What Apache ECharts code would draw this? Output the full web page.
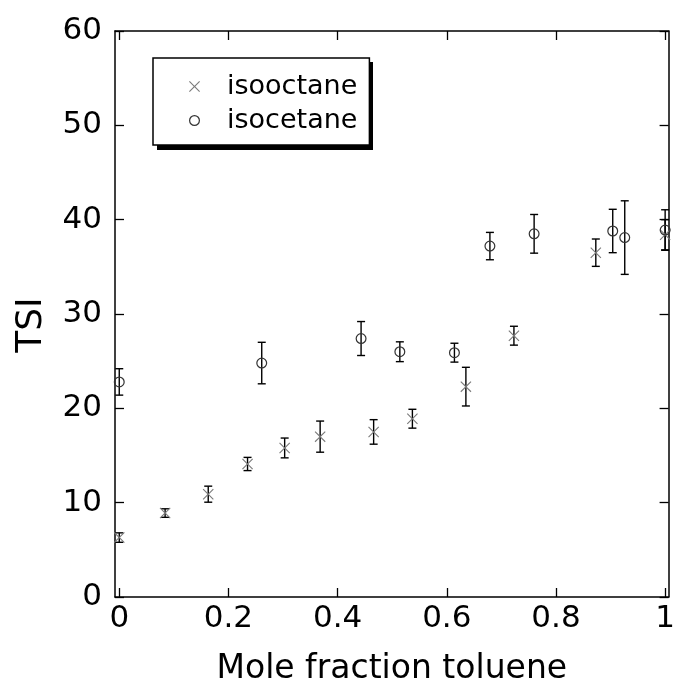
<!DOCTYPE html>
<html>
<head>
<meta charset="utf-8">
<script src="https://cdn.jsdelivr.net/npm/echarts@6/dist/echarts.min.js"></script>
<style>
  html, body { margin: 0; padding: 0; background: #fff; }
  #chart { width: 678px; height: 691px; }
</style>
</head>
<body>
<div id="chart"></div>
<script>
// TSI versus mole fraction of toluene, two surrogate blends with error bars
const xIsooctane = [0, 0.084, 0.163, 0.235, 0.303, 0.368, 0.466, 0.537, 0.635, 0.723, 0.873, 1.0];
const yIsooctane = [6.3, 8.9, 10.9, 14.1, 15.8, 17.0, 17.5, 18.9, 22.3, 27.7, 36.5, 38.4];
const eIsooctane = [0.5, 0.45, 0.85, 0.7, 1.05, 1.65, 1.3, 1.0, 2.05, 1.0, 1.45, 1.6];

const xIsocetane = [0, 0.261, 0.443, 0.514, 0.614, 0.679, 0.760, 0.904, 0.926, 1.0];
const yIsocetane = [22.8, 24.8, 27.4, 26.0, 25.9, 37.2, 38.5, 38.8, 38.1, 38.9];
const eIsocetane = [1.4, 2.2, 1.8, 1.05, 1.0, 1.45, 2.05, 2.3, 3.9, 2.15];

const xTickValues = [0, 0.2, 0.4, 0.6, 0.8, 1];
const xTickLabels = ['0', '0.2', '0.4', '0.6', '0.8', '1'];
const yTickLabels = ['0', '10', '20', '30', '40', '50', '60'];

// axis limits leave a small margin around 0 and 1
const X_MIN = -0.0078;
const X_MAX = 1.0063;

const FONT = 'DejaVu Sans';
const CROSS = 'path://M0,0.7 L0.7,0 L5,4.3 L9.3,0 L10,0.7 L5.7,5 L10,9.3 L9.3,10 L5,5.7 L0.7,10 L0,9.3 L4.3,5 Z';
const RING = 'path://M5,0 A5,5 0 1,1 5,10 A5,5 0 1,1 5,0 Z M5,1.1 A3.9,3.9 0 1,0 5,8.9 A3.9,3.9 0 1,0 5,1.1 Z';

function points(xs, ys) { return xs.map((x, i) => [x, ys[i]]); }
function bars(xs, ys, es) { return xs.map((x, i) => [x, ys[i], es[i]]); }

function renderErrorBar(params, api) {
  const x = api.value(0), y = api.value(1), e = api.value(2);
  const top = api.coord([x, y + e]);
  const bot = api.coord([x, y - e]);
  const hw = 4;
  const st = { stroke: '#000', lineWidth: 1.4 };
  return {
    type: 'group',
    children: [
      { type: 'line', shape: { x1: top[0], y1: top[1], x2: bot[0], y2: bot[1] }, style: st },
      { type: 'line', shape: { x1: top[0] - hw, y1: top[1], x2: top[0] + hw, y2: top[1] }, style: st },
      { type: 'line', shape: { x1: bot[0] - hw, y1: bot[1], x2: bot[0] + hw, y2: bot[1] }, style: st }
    ]
  };
}

const axisLineStyle = { color: '#000', width: 1.5 };
const tickStyle = { color: '#000', width: 1.3 };

// legend box geometry (the solid drop shadow sits behind it)
const LEGEND_LEFT = 153, LEGEND_TOP = 58, LEGEND_W = 216, LEGEND_H = 88, SHADOW = 4;

const chart = echarts.init(document.getElementById('chart'), null, { renderer: 'canvas' });
chart.setOption({
  animation: false,
  backgroundColor: '#fff',
  grid: { left: 115, right: 1, top: 31, bottom: 94, containLabel: false },
  graphic: [
    {
      type: 'rect', z: 4, silent: true,
      shape: { x: LEGEND_LEFT + SHADOW, y: LEGEND_TOP + SHADOW, width: LEGEND_W, height: LEGEND_H },
      style: { fill: '#000' }
    }
  ],
  legend: {
    left: LEGEND_LEFT, top: LEGEND_TOP, z: 5,
    orient: 'vertical',
    padding: [15, 12, 11, 36],
    itemGap: 7,
    itemWidth: 11, itemHeight: 11,
    backgroundColor: '#fff',
    borderColor: '#000', borderWidth: 1.5, borderRadius: 0,
    textStyle: { fontFamily: FONT, fontSize: 27, color: '#000', padding: [0, 0, 0, 22] },
    data: ['isooctane', 'isocetane']
  },
  xAxis: [
    {
      type: 'value', min: X_MIN, max: X_MAX, position: 'bottom',
      axisLine: { show: true, onZero: false, lineStyle: axisLineStyle },
      axisTick: { show: true, inside: true, length: 9, customValues: xTickValues, lineStyle: tickStyle },
      axisLabel: {
        customValues: xTickValues,
        formatter: v => xTickLabels[xTickValues.indexOf(v)] ?? String(v),
        fontFamily: FONT, fontSize: 31, color: '#000', margin: 6
      },
      splitLine: { show: false },
      name: 'Mole fraction toluene', nameLocation: 'middle', nameGap: 56,
      nameTextStyle: { fontFamily: FONT, fontSize: 33, color: '#000' }
    },
    {
      type: 'value', min: X_MIN, max: X_MAX, position: 'top',
      axisLine: { show: true, onZero: false, lineStyle: axisLineStyle },
      axisTick: { show: true, inside: true, length: 9, customValues: xTickValues, lineStyle: tickStyle },
      axisLabel: { show: false },
      splitLine: { show: false }
    }
  ],
  yAxis: [
    {
      type: 'value', min: 0, max: 60, interval: 10, position: 'left',
      axisLine: { show: true, onZero: false, lineStyle: axisLineStyle },
      axisTick: { show: true, inside: true, length: 9, lineStyle: tickStyle },
      axisLabel: {
        formatter: v => yTickLabels[Math.round(v / 10)],
        fontFamily: FONT, fontSize: 31, color: '#000', margin: 13
      },
      splitLine: { show: false },
      name: 'TSI', nameLocation: 'middle', nameGap: 65,
      nameTextStyle: { fontFamily: FONT, fontSize: 36, color: '#000', padding: [0, 22, 0, 0] }
    },
    {
      type: 'value', min: 0, max: 60, interval: 10, position: 'right',
      axisLine: { show: true, onZero: false, lineStyle: axisLineStyle },
      axisTick: { show: true, inside: true, length: 9, lineStyle: tickStyle },
      axisLabel: { show: false },
      splitLine: { show: false }
    }
  ],
  series: [
    {
      name: 'isooctane-err', type: 'custom', renderItem: renderErrorBar,
      data: bars(xIsooctane, yIsooctane, eIsooctane), z: 1, clip: false, silent: true
    },
    {
      name: 'isocetane-err', type: 'custom', renderItem: renderErrorBar,
      data: bars(xIsocetane, yIsocetane, eIsocetane), z: 1, clip: false, silent: true
    },
    {
      name: 'isooctane', type: 'scatter', symbol: CROSS, symbolSize: 11,
      itemStyle: { color: '#7a7a7a', opacity: 1 },
      data: points(xIsooctane, yIsooctane), z: 3, clip: false
    },
    {
      name: 'isocetane', type: 'scatter', symbol: RING, symbolSize: 11,
      itemStyle: { color: '#333', opacity: 1 },
      data: points(xIsocetane, yIsocetane), z: 3, clip: false
    }
  ]
});
</script>
</body>
</html>
